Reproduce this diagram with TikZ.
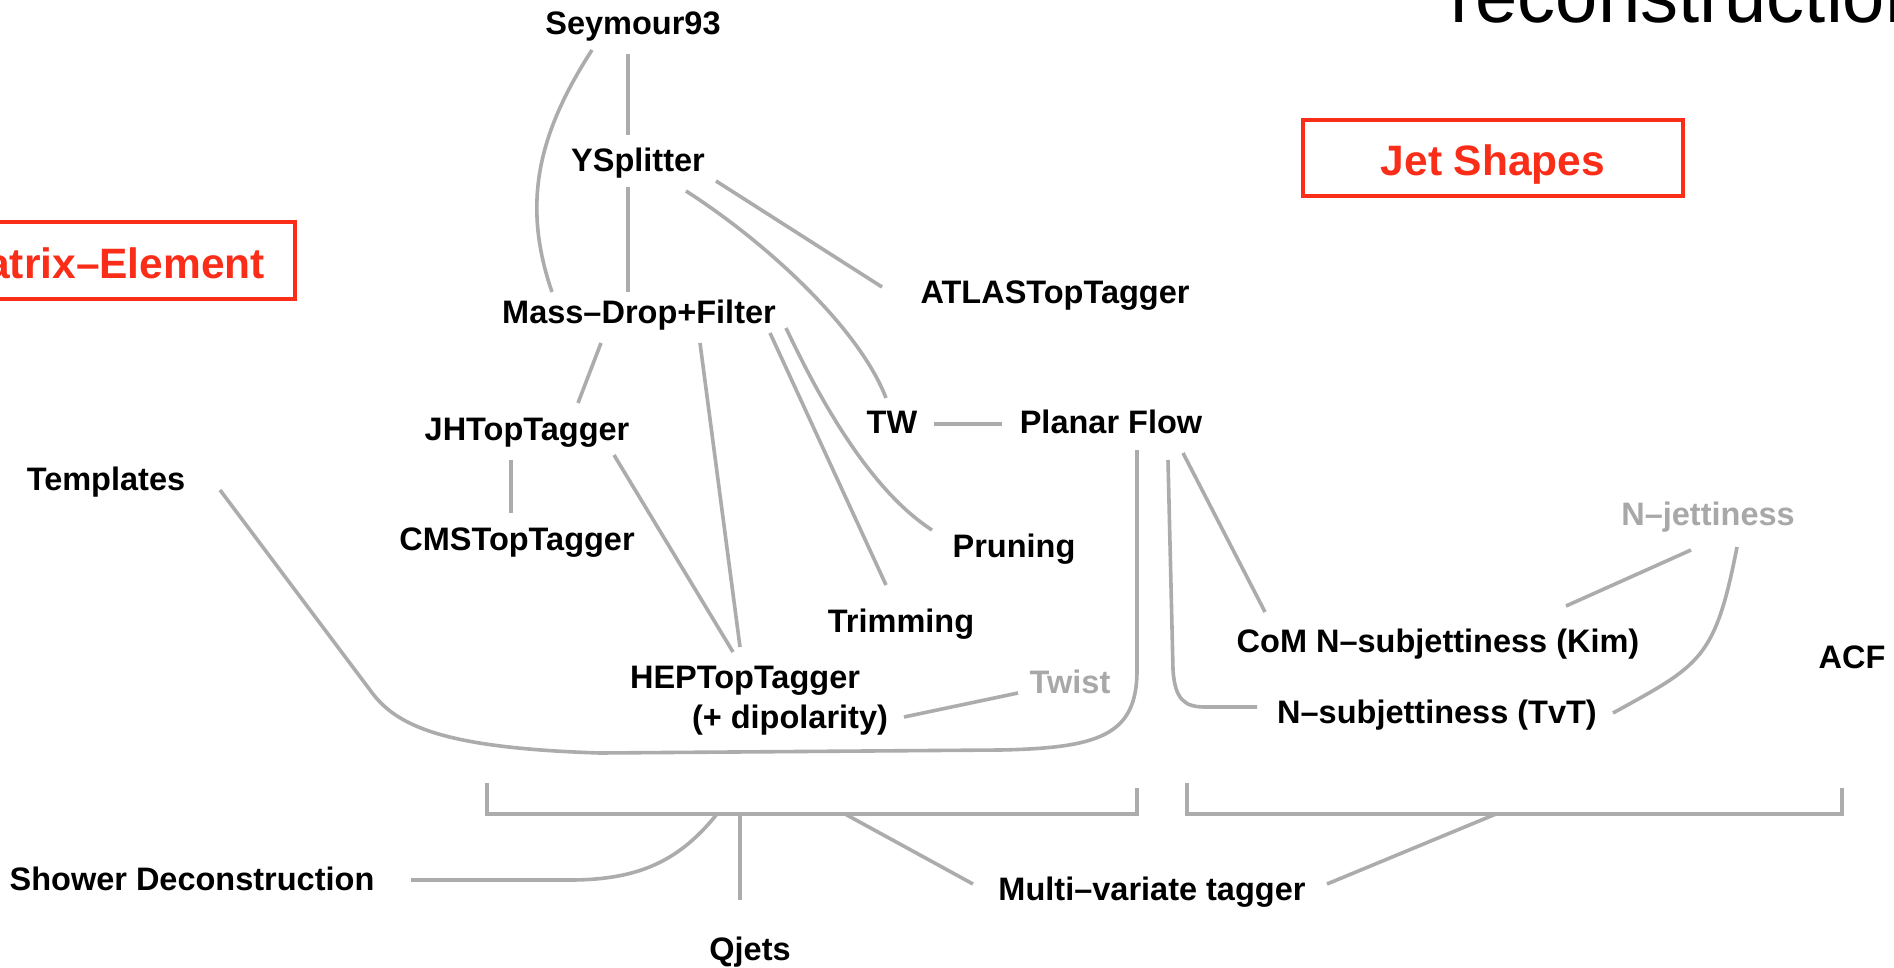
\documentclass[tikz,border=0pt]{standalone}
\usepackage{fontspec}
\setmainfont{Liberation Sans}
\usetikzlibrary{calc}
\definecolor{lin}{RGB}{172,172,172}
\definecolor{ghost}{RGB}{168,168,168}
\definecolor{redb}{RGB}{250,45,25}
\begin{document}
\begin{tikzpicture}[x=1pt,y=-1pt,
  lbl/.style={anchor=base,inner sep=0pt,font=\fontsize{32.5}{38}\selectfont\bfseries},
  faint/.style={lbl,text=ghost},
  conn/.style={draw=lin,line width=3.6pt},
  redbox/.style={draw=redb,line width=4pt,text=redb,outer sep=0pt,
    font=\fontsize{42.5}{50}\selectfont\bfseries,minimum height=76pt,
    text height=36pt,text depth=0pt,inner ysep=0pt}]
\useasboundingbox (0,0) rectangle (1894,968);
\clip (0,0) rectangle (1894,968);
\fill[white] (0,0) rectangle (1894,968);

% title fragment
\node[anchor=base west,inner sep=0pt,font=\fontsize{76}{90}\selectfont] (ttl) at (1450,23) {reconstruction};

% category boxes
\node[redbox,minimum width=380pt] (jet) at (1493,158) {Jet Shapes};
\node[redbox,anchor=east,inner xsep=30pt] (mat) at (295,260.5) {Matrix–Element};

% nodes
\node[lbl] (sey) at (633,35) {Seymour93};
\node[lbl] (ysp) at (638,172) {YSplitter};
\node[lbl] (mdf) at (639,323) {Mass–Drop+Filter};
\node[lbl] (atl) at (1055,303) {ATLASTopTagger};
\node[lbl] (jht) at (527,440) {JHTopTagger};
\node[lbl] (tw) at (892,433) {TW};
\node[lbl] (pf) at (1111,433) {Planar Flow};
\node[lbl] (tem) at (106,490) {Templates};
\node[lbl] (cms) at (517,550) {CMSTopTagger};
\node[lbl] (pru) at (1014,557) {Pruning};
\node[lbl] (tri) at (901,632) {Trimming};
\node[lbl] (hep) at (745,688) {HEPTopTagger};
\node[lbl] (dip) at (790,728) {(+ dipolarity)};
\node[faint] (twi) at (1070,693) {Twist};
\node[faint] (njet) at (1708,525) {N–jettiness};
\node[lbl] (com) at (1438,652) {CoM N–subjettiness (Kim)};
\node[lbl] (tvt) at (1437,723) {N–subjettiness (TvT)};
\node[lbl] (acf) at (1852,668) {ACF};
\node[lbl] (shw) at (192,890) {Shower Deconstruction};
\node[lbl] (mva) at (1152,900) {Multi–variate tagger};
\node[lbl] (qj) at (750,960) {Qjets};

% brackets
\draw[conn] (487,783) -- (487,814) -- (1137,814) -- (1137,788);
\draw[conn] (1187,783) -- (1187,814) -- (1842,814) -- (1842,788);
\coordinate (brL) at (740,814);
\coordinate (brR) at (1496,814);

% connectors
\draw[conn] ($(sey.base)+(-5,19)$) -- ($(ysp.base)+(-10,-37)$);
\draw[conn] ($(sey.base)+(-41,15)$) .. controls (537,135) and (522,205) .. ($(mdf.base)+(-87,-31)$);
\draw[conn] ($(ysp.base)+(-10,15)$) -- ($(mdf.base)+(-11,-31)$);
\draw[conn] ($(ysp.base)+(78,9)$) -- ($(atl.base)+(-173,-16)$);
\draw[conn] ($(ysp.base)+(48,19)$) .. controls (770,245) and (860,330) .. ($(tw.base)+(-6,-35)$);
\draw[conn] ($(mdf.base)+(-38,20)$) -- ($(jht.base)+(51,-37)$);
\draw[conn] ($(mdf.base)+(61,20)$) -- ($(hep.base)+(-5,-41)$);
\draw[conn] ($(mdf.base)+(131,10)$) -- ($(tri.base)+(-15,-47)$);
\draw[conn] ($(mdf.base)+(147,5)$) .. controls (820,400) and (870,490) .. ($(pru.base)+(-82,-27)$);
\draw[conn] ($(jht.base)+(-16,20)$) -- ($(cms.base)+(-6,-37)$);
\draw[conn] ($(jht.base)+(87,15)$) -- ($(hep.base)+(-12,-36)$);
\draw[conn] ($(tw.base)+(42,-9)$) -- ($(pf.base)+(-109,-9)$);
\draw[conn] ($(tem.base)+(114,0)$) -- (370,690) .. controls (395,725) and (440,748) .. (600,753)
  -- (1000,750) .. controls (1100,748) and (1137,735) .. (1137,670) -- ($(pf.base)+(26,17)$);
\draw[conn] ($(pf.base)+(57,27)$) -- (1173,670) .. controls (1175,700) and (1185,707) .. (1205,707)
  -- ($(tvt.base)+(-180,-16)$);
\draw[conn] ($(pf.base)+(72,20)$) -- ($(com.base)+(-173,-40)$);
\draw[conn] ($(njet.base)+(-17,25)$) -- ($(com.base)+(128,-46)$);
\draw[conn] ($(njet.base)+(29,22)$) .. controls (1715,660) and (1700,665) .. ($(tvt.base)+(176,-10)$);
\draw[conn] ($(dip.base)+(114,-11)$) -- ($(twi.base)+(-52,0)$);
\draw[conn] ($(shw.base)+(219,-10)$) -- (570,880) .. controls (640,880) and (680,860) .. ($(brL)+(-23,0)$);
\draw[conn] (brL) -- ($(qj.base)+(-10,-60)$);
\draw[conn] ($(brL)+(105,0)$) -- ($(mva.base)+(-179,-16)$);
\draw[conn] ($(mva.base)+(175,-16)$) -- (brR);
\end{tikzpicture}
\end{document}
